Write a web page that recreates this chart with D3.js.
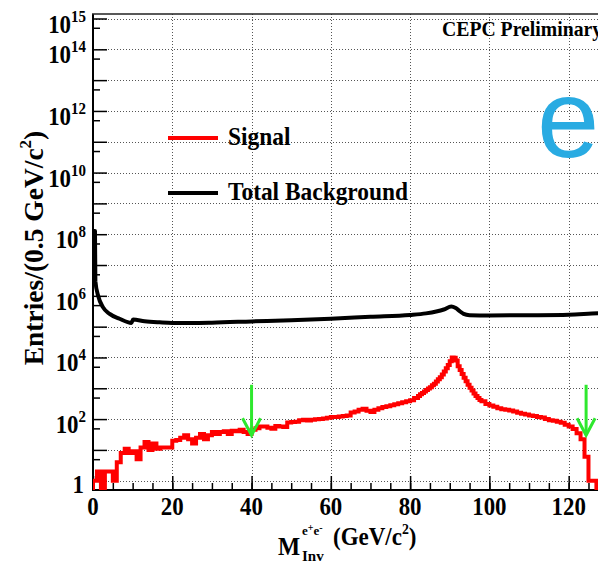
<!DOCTYPE html>
<html><head><meta charset="utf-8">
<script src="https://cdn.jsdelivr.net/npm/d3@7"></script>
<style>body{margin:0;background:#fff}svg{display:block}</style>
</head><body><svg id="c" width="598" height="565"></svg>
<script>
// ---------------- data ----------------
const xTickValues = [0, 20, 40, 60, 80, 100, 120];
const xTickLabels = ["0", "20", "40", "60", "80", "100", "120"];
const yTickExponents = [0, 2, 4, 6, 8, 10, 12, 14, 15];

// Total background (smooth curve), mass in GeV and entries per 0.5 GeV
const bkgMass = [0, 0.5, 0.6, 1.3, 2.5, 4.2, 6.7, 9.7, 10.1, 13, 16.8, 20, 25, 30, 40, 50, 60, 70, 80, 84, 86.6, 88.5, 90.4, 91.5, 92.5, 93.5, 95, 100, 110, 120, 127.5, 130];
const bkgEntries = [1.26e8, 1.26e8, 3.0e6, 1.0e6, 4.3e5, 2.6e5, 1.8e5, 1.32e5, 1.7e5, 1.5e5, 1.38e5, 1.32e5, 1.32e5, 1.35e5, 1.48e5, 1.62e5, 1.82e5, 2.1e5, 2.4e5, 2.7e5, 3.1e5, 3.6e5, 4.5e5, 4.0e5, 3.2e5, 2.6e5, 2.35e5, 2.3e5, 2.35e5, 2.45e5, 2.7e5, 2.75e5];

// Signal histogram: 1 GeV bins from 0 to 82 GeV
const sigLowEntries = [
  1, 2, 0, 2, 2, 1, 4, 8, 11, 8,
  9, 5, 12, 18, 10, 16, 11, 12, 12, 12,
  20, 21, 25, 30, 22, 16, 25, 33, 22, 30,
  38, 33, 38, 40, 33, 42, 40, 45, 38, 33,
  45, 50, 58, 58, 52, 49, 60, 58, 55, 78,
  80, 82, 92, 95, 90, 96, 98, 100, 105, 110,
  116, 118, 122, 126, 130, 165, 175, 200, 215, 185,
  170, 200, 225, 245, 260, 280, 305, 325, 350, 380,
  410, 480
];
// 0.5 GeV bins from 82 to 98 GeV
const sigPeakEntries = [
  560, 640, 700, 790, 880, 980, 1080, 1250, 1400, 1650,
  1950, 2300, 2800, 3500, 4500, 5700, 7500, 10000, 9800, 8000,
  5200, 3900, 2900, 2200, 1700, 1300, 1050, 850, 680, 560,
  480, 420
];
// 1 GeV bins from 98 to 128 GeV
const sigHighEntries = [
  380, 310, 275, 250, 225, 210, 200, 190, 175, 160,
  150, 140, 132, 125, 118, 112, 100, 92, 88, 82,
  76, 66, 58, 48, 35, 22, 6, 1, 1, 0
];

// cut arrows
const cutMass = [40, 124.4];
const arrowTopEntries = 1300;
const arrowTipEntries = 30;

const legendLabels = ["Signal", "Total Background"];
const legendColors = ["#ff0000", "#000000"];

// ---------------- drawing ----------------
const svg = d3.select("#c");
const x = d3.scaleLinear().domain([0, 130]).range([93, 608.3]);
const y = d3.scaleLog().domain([0.5, 1.4e15]).range([490, 14]);
const yMin = 0.5;
const serif = "'Liberation Serif','Times New Roman',serif";

function txt(parent, tx, ty, size, sx, anchor) {
  return parent.append("text")
    .attr("transform", `translate(${tx},${ty}) scale(${sx},1)`)
    .attr("text-anchor", anchor || "start")
    .attr("font-family", serif).attr("font-weight", "bold").attr("font-size", size);
}

svg.append("defs").append("clipPath").attr("id", "plot")
  .append("rect").attr("x", 93).attr("y", 14).attr("width", 520).attr("height", 476);

// grid
const grid = svg.append("g").attr("stroke", "#555").attr("stroke-width", 1).attr("stroke-dasharray", "1,2");
const decades = d3.range(0, 16).map(e => Math.pow(10, e));
grid.selectAll("line.h").data(decades).join("line")
  .attr("x1", 93).attr("x2", 608).attr("y1", d => Math.round(y(d)) + 0.5).attr("y2", d => Math.round(y(d)) + 0.5);
grid.selectAll("line.v").data(xTickValues.slice(1)).join("line")
  .attr("y1", 14).attr("y2", 490).attr("x1", d => Math.round(x(d)) + 0.5).attr("x2", d => Math.round(x(d)) + 0.5);

// axes (ticks pointing inside)
const xMinor = d3.range(0, 131, 5);
svg.append("g").attr("transform", "translate(0,490)")
  .call(d3.axisBottom(x).tickValues(xMinor).tickSize(-7).tickFormat(""))
  .call(g => g.select(".domain").remove())
  .call(g => g.selectAll("line").attr("stroke-width", 1.5));
svg.append("g").attr("transform", "translate(0,490)")
  .call(d3.axisBottom(x).tickValues(xTickValues).tickSize(-14).tickFormat(""))
  .call(g => g.select(".domain").remove())
  .call(g => g.selectAll("line").attr("stroke-width", 1.5));

const yMinor = d3.range(0, 15).map(e => 5 * Math.pow(10, e));
svg.append("g").attr("transform", "translate(93,0)")
  .call(d3.axisLeft(y).tickValues(yMinor).tickSize(-7).tickFormat(""))
  .call(g => g.select(".domain").remove())
  .call(g => g.selectAll("line").attr("stroke-width", 1.5));
svg.append("g").attr("transform", "translate(93,0)")
  .call(d3.axisLeft(y).tickValues(decades).tickSize(-14).tickFormat(""))
  .call(g => g.select(".domain").remove())
  .call(g => g.selectAll("line").attr("stroke-width", 1.5));

// frame
svg.append("line").attr("x1", 93).attr("x2", 93).attr("y1", 14).attr("y2", 491).attr("stroke", "#000").attr("stroke-width", 2);
svg.append("line").attr("x1", 92).attr("x2", 610).attr("y1", 490).attr("y2", 490).attr("stroke", "#000").attr("stroke-width", 2);
svg.append("line").attr("x1", 92).attr("x2", 610).attr("y1", 14).attr("y2", 14).attr("stroke", "#222").attr("stroke-width", 1.5);

// x tick labels
const xl = svg.append("g");
xTickValues.forEach((d, i) => {
  txt(xl, x(d), 515, 26, 0.88, "middle").text(xTickLabels[i]);
});

// y tick labels
const yl = svg.append("g");
yTickExponents.forEach(e => {
  const yy = y(Math.pow(10, e));
  if (e === 0) {
    txt(yl, 84, yy + 12, 26, 0.88, "end").text("1");
  } else {
    const t = txt(yl, 86, yy + 14, 26, 0.88, "end");
    t.append("tspan").text("10");
    t.append("tspan").attr("font-size", 17).attr("dy", -11).text(String(e));
  }
});

// data
const plot = svg.append("g").attr("clip-path", "url(#plot)");

// background line
plot.append("path")
  .datum(bkgMass.map((m, i) => [m, bkgEntries[i]]))
  .attr("fill", "none").attr("stroke", "#000").attr("stroke-width", 4).attr("stroke-linejoin", "round")
  .attr("d", d3.line().x(d => x(d[0])).y(d => y(d[1])).curve(d3.curveMonotoneX));

// signal step histogram
const sigBins = [];
sigLowEntries.forEach((v, i) => sigBins.push([0 + i * 1, v]));
sigPeakEntries.forEach((v, i) => sigBins.push([82 + i * 0.5, v]));
sigHighEntries.forEach((v, i) => sigBins.push([98 + i * 1, v]));
const sigPts = [[0, yMin]];
sigBins.forEach(b => sigPts.push([b[0], Math.max(b[1], yMin)]));
sigPts.push([128, Math.max(sigHighEntries[sigHighEntries.length - 1], yMin)]);
plot.append("path")
  .datum(sigPts)
  .attr("fill", "none").attr("stroke", "#ff0000").attr("stroke-width", 4).attr("stroke-linejoin", "miter")
  .attr("d", d3.line().x(d => x(d[0])).y(d => y(d[1])).curve(d3.curveStepAfter));

// arrows
const arr = svg.append("g").attr("stroke", "#2ee82e").attr("stroke-width", 3).attr("fill", "none");
cutMass.forEach(m => {
  const ax = x(m), y0 = y(arrowTopEntries), y1 = y(arrowTipEntries);
  arr.append("line").attr("x1", ax).attr("x2", ax).attr("y1", y0).attr("y2", y1);
  arr.append("path").attr("d", `M${ax - 9},${y1 - 17}L${ax},${y1}L${ax + 9},${y1 - 17}`);
});

// legend
const leg = svg.append("g");
legendLabels.forEach((lab, i) => {
  const ly = [138, 193][i];
  leg.append("line").attr("x1", 168).attr("x2", 218).attr("y1", ly).attr("y2", ly)
    .attr("stroke", legendColors[i]).attr("stroke-width", 4);
  txt(leg, 228, ly + 7, 26, 0.9).text(lab);
});

// CEPC label
txt(svg, 442, 36, 21, 0.94).text("CEPC Preliminary");

// y title
const yt = svg.append("text").attr("transform", "translate(43,248) rotate(-90)").attr("text-anchor", "middle")
  .attr("font-family", serif).attr("font-weight", "bold").attr("font-size", 27.5);
yt.append("tspan").text("Entries/(0.5 GeV/c");
yt.append("tspan").attr("font-size", 17).attr("dy", -12).text("2");
yt.append("tspan").attr("dy", 12).text(")");

// x title
const xt = svg.append("g");
txt(xt, 278, 555, 26, 0.9).text("M");
const sup = txt(xt, 302, 535, 13, 1);
sup.append("tspan").text("e");
sup.append("tspan").attr("font-size", 10).attr("dy", -4).text("+");
sup.append("tspan").attr("dy", 4).text("e");
sup.append("tspan").attr("font-size", 10).attr("dy", -4).text("-");
txt(xt, 302, 561, 15, 1).text("Inv");
const unit = txt(xt, 333, 545, 25, 0.92);
unit.append("tspan").text("(GeV/c");
unit.append("tspan").attr("font-size", 15).attr("dy", -11).text("2");
unit.append("tspan").attr("dy", 11).text(")");

// overlay blue "e"
svg.append("text").attr("x", 537).attr("y", 157).attr("font-family", "'Liberation Sans',Arial,sans-serif")
  .attr("font-size", 112).attr("fill", "#29abe2").text("e");
</script></body></html>
